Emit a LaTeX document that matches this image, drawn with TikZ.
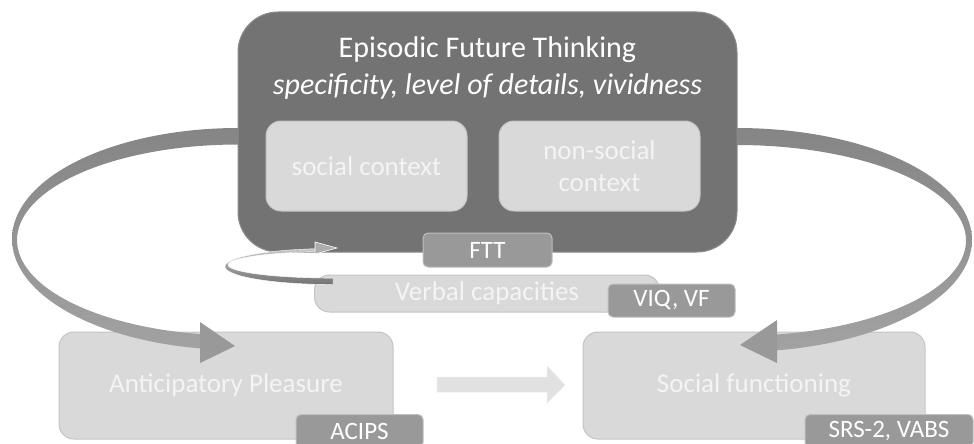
\documentclass[tikz,border=0pt]{standalone}
\usepackage{fontspec}
\setmainfont{Carlito}
\definecolor{darkfill}{HTML}{737373}
\definecolor{darkedge}{HTML}{8C8C8C}
\definecolor{lightfill}{HTML}{D9D9D9}
\definecolor{lightedge}{HTML}{C4C4C4}
\definecolor{tagfill}{HTML}{999999}
\definecolor{tagedge}{HTML}{BDBDBD}
\definecolor{softtext}{HTML}{F4F4F4}
\definecolor{midarrow}{HTML}{E1E1E1}
\definecolor{ribbontop}{HTML}{858585}
\definecolor{ribbonbot}{HTML}{A2A2A2}
\definecolor{headgray}{HTML}{999999}
\begin{document}
\begin{tikzpicture}[x=1pt,y=-1pt,
  mainbox/.style={fill=darkfill,draw=darkedge,line width=1pt,rounded corners=40pt,inner sep=0pt},
  ctxbox/.style={fill=lightfill,draw=lightedge,line width=1pt,rounded corners=15pt,inner sep=0pt,
    minimum width=201pt,minimum height=90pt,text=softtext,align=center,
    font=\fontsize{27}{32}\selectfont},
  outcomebox/.style={fill=lightfill,draw=lightedge,line width=1pt,rounded corners=15pt,inner sep=0pt,
    text=softtext,font=\fontsize{27}{32}\selectfont},
  tagbox/.style={fill=tagfill,draw=tagedge,line width=1pt,rounded corners=5pt,inner sep=0pt,
    text=white,font=\fontsize{25}{28}\selectfont},
  titletext/.style={text=white,inner sep=0pt,anchor=base,font=\fontsize{30}{36}\selectfont}
]
\useasboundingbox (0,0) rectangle (974,444);
\clip (0,0) rectangle (974,444);

% outcome boxes at the bottom
\node[outcomebox,minimum width=334pt,minimum height=107pt] (ap) at (226,385.5) {Anticipatory Pleasure};
\node[outcomebox,minimum width=342pt,minimum height=107pt] (sf) at (754,385.5) {Social functioning};
\node[tagbox,minimum width=127pt,minimum height=33pt] (acips) at (359.5,431) {ACIPS};
\node[tagbox,minimum width=168pt,minimum height=33pt] (srs) at (889,431) {SRS-2, VABS};

% straight arrow between the outcomes
\fill[midarrow,draw=white!92!black,line width=0.5pt]
  (437,377) -- (547,377) -- (547,366) -- (565,385) -- (547,403) -- (547,392) -- (437,392) -- cycle;

% left curved ribbon arrow
\shade[top color=ribbontop,bottom color=ribbonbot]
  plot[domain=272:98.5,samples=90] ({238+226*cos(\x)},{239+111*sin(\x)})
  -- plot[domain=98.5:272,samples=90] ({238+221*cos(\x)},{240+95.5*sin(\x)}) -- cycle;
\fill[headgray] (200,322) -- (235,346) -- (200,363) -- cycle;

% right curved ribbon arrow
\shade[top color=ribbontop,bottom color=ribbonbot]
  plot[domain=268:441.4,samples=90] ({737+235*cos(\x)},{240+112*sin(\x)})
  -- plot[domain=441.4:268,samples=90] ({737+229*cos(\x)},{240.5+95.5*sin(\x)}) -- cycle;
\fill[headgray] (777,320) -- (740,345) -- (777,363) -- cycle;

% episodic future thinking block
\node[mainbox,minimum width=499pt,minimum height=240pt] (eft) at (487.5,132) {};
\node[titletext] (title) at (487.5,57.7) {Episodic Future Thinking};
\node[titletext] (subtitle) at (487.5,94) {\itshape specificity, level of details, vividness};
\node[ctxbox] (social) at (366.5,166) {social context};
\node[ctxbox] (nonsocial) at (599.5,166) {non-social\\context};

% verbal capacities and tags
\node[outcomebox,minimum width=345pt,minimum height=37pt] (verbal) at (487,293.5) {Verbal capacities};
\node[tagbox,minimum width=129pt,minimum height=34pt] (ftt) at (487.5,250) {FTT};
\node[tagbox,minimum width=127pt,minimum height=33pt] (viq) at (671.5,300.5) {VIQ, VF};

% small feedback loop from verbal capacities
\shade[top color=white!78!black,bottom color=white!45!black,draw=white,line width=0.4pt]
  plot[domain=90:262,samples=60] ({333+108*cos(\x)},{266.5+18*sin(\x)})
  -- plot[domain=262:90,samples=60] ({333+105*cos(\x)},{264.8+13.3*sin(\x)}) -- cycle;
\fill[white!68!black,draw=white,line width=0.6pt] (315,242) -- (337,248) -- (315,254) -- cycle;
\end{tikzpicture}
\end{document}
